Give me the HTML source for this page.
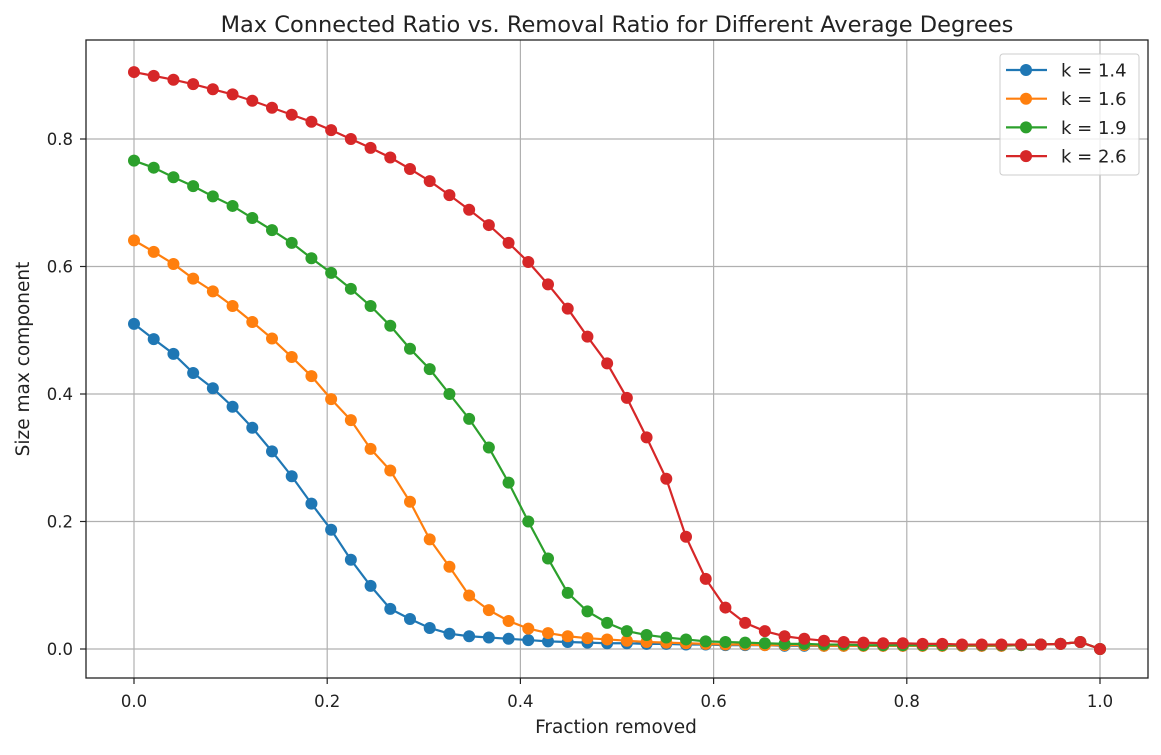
<!DOCTYPE html>
<html><head><meta charset="utf-8"><style>
body{margin:0;background:#fff;}
svg text{font-family:"DejaVu Sans","Liberation Sans",sans-serif;fill:#222;}
</style></head><body>
<svg id="chart" width="1161" height="750" xmlns="http://www.w3.org/2000/svg"></svg>
<script>
const xTicks=[0,0.2,0.4,0.6,0.8,1.0];
const xTickLabels=["0.0","0.2","0.4","0.6","0.8","1.0"];
const yTicks=[0,0.2,0.4,0.6,0.8];
const yTickLabels=["0.0","0.2","0.4","0.6","0.8"];
const seriesNames=["k = 1.4","k = 1.6","k = 1.9","k = 2.6"];
const seriesColors=["#1f77b4","#ff7f0e","#2ca02c","#d62728"];
const k14=[.51,.486,.463,.433,.409,.38,.347,.31,.271,.228,.187,.14,.099,.063,.047,.033,.024,.02,.018,.016,.014,.012,.011,.01,.009,.009,.008,.008,.007,.007,.006,.006,.006,.005,.005,.005,.005,.005,.005,.005,.005,.005,.005,.005,.005,.006,.007,.008,.011,0];
const k16=[.641,.623,.604,.581,.561,.538,.513,.487,.458,.428,.392,.359,.314,.28,.231,.172,.129,.084,.061,.044,.032,.025,.02,.017,.015,.013,.011,.01,.009,.008,.007,.007,.006,.006,.006,.005,.005,.005,.005,.005,.005,.005,.005,.005,.005,.006,.007,.008,.011,0];
const k19=[.766,.755,.74,.726,.71,.695,.676,.657,.637,.613,.59,.565,.538,.507,.471,.439,.4,.361,.316,.261,.2,.142,.088,.059,.041,.028,.022,.018,.015,.012,.011,.01,.009,.008,.008,.007,.007,.006,.006,.006,.006,.006,.006,.006,.006,.006,.007,.008,.011,0];
const k26=[.905,.899,.893,.886,.878,.87,.86,.849,.838,.827,.814,.8,.786,.771,.753,.734,.712,.689,.665,.637,.607,.572,.534,.49,.448,.394,.332,.267,.176,.11,.065,.041,.028,.02,.016,.013,.011,.01,.009,.009,.008,.008,.007,.007,.007,.007,.007,.008,.011,0];
const allSeries=[k14,k16,k19,k26];

const NS="http://www.w3.org/2000/svg";
const svg=document.getElementById('chart');
const L=86,R=1148,T=40,B=678;
const xs=v=>134+v*966;
const ys=v=>649-v*637.5;
function mk(tag,attrs,parent){const e=document.createElementNS(NS,tag);for(const k in attrs)e.setAttribute(k,attrs[k]);(parent||svg).appendChild(e);return e;}

xTicks.forEach((t,i)=>{
  const g=mk('line',{x1:xs(t),x2:xs(t),y1:T,y2:B,stroke:'#b0b0b0','stroke-width':1.2});
  
  
  mk('line',{x1:xs(t),x2:xs(t),y1:B,y2:B+6,stroke:'#222','stroke-width':1.2});
  const tx=mk('text',{x:xs(t),y:B+29,'text-anchor':'middle','font-size':16.5});
  tx.textContent=xTickLabels[i];
  
  
});
yTicks.forEach((t,i)=>{
  const g=mk('line',{x1:L,x2:R,y1:ys(t),y2:ys(t),stroke:'#b0b0b0','stroke-width':1.2});
  
  
  mk('line',{x1:L-6,x2:L,y1:ys(t),y2:ys(t),stroke:'#222','stroke-width':1.2});
  const tx=mk('text',{x:L-13,y:ys(t)+6,'text-anchor':'end','font-size':16.5});
  tx.textContent=yTickLabels[i];
  
  
});

allSeries.forEach((s,si)=>{
  const g=mk('g',{});
  
  
  const pts=s.map((v,i)=>xs(i/(s.length-1))+','+ys(v)).join(' ');
  mk('polyline',{points:pts,fill:'none',stroke:seriesColors[si],'stroke-width':2.2},g);
  s.forEach((v,i)=>{
    const c=mk('circle',{cx:xs(i/(s.length-1)),cy:ys(v),r:6,fill:seriesColors[si]},g);
    
    
  });
});

const fr=mk('rect',{x:L,y:T,width:R-L,height:B-T,fill:'none',stroke:'#222','stroke-width':1.3});



const ti=mk('text',{x:(L+R)/2,y:32,'text-anchor':'middle','font-size':22.5});
ti.textContent='Max Connected Ratio vs. Removal Ratio for Different Average Degrees';


const xl=mk('text',{x:616,y:733,'text-anchor':'middle','font-size':18.5});
xl.textContent='Fraction removed';


const yl=mk('text',{x:0,y:0,'text-anchor':'middle','font-size':18.5,transform:'translate(29,359) rotate(-90)'});
yl.textContent='Size max component';



const lg=mk('g',{});


mk('rect',{x:1000,y:54,width:139,height:121,rx:3,fill:'#fff','fill-opacity':0.8,stroke:'#ccc'},lg);
seriesNames.forEach((n,i)=>{
  const y=70+i*28.7;
  const e=mk('g',{},lg);
  
  
  mk('line',{x1:1006,x2:1047,y1:y,y2:y,stroke:seriesColors[i],'stroke-width':2.2},e);
  mk('circle',{cx:1026,cy:y,r:6,fill:seriesColors[i]},e);
  const t=mk('text',{x:1061,y:y+6.5,'font-size':18},e);
  t.textContent=n;
});
</script>
</body></html>
